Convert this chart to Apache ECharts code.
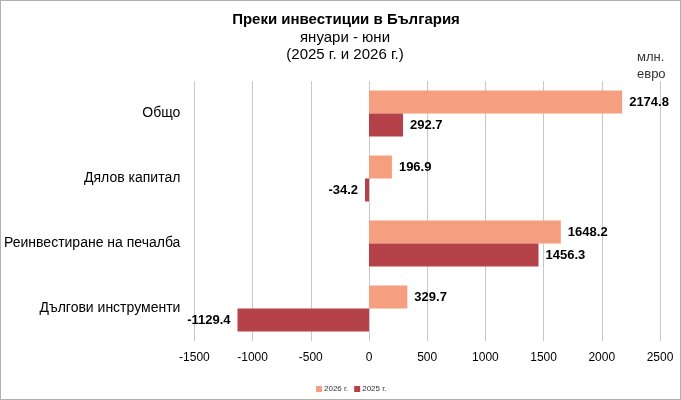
<!DOCTYPE html>
<html>
<head>
<meta charset="utf-8">
<script src="https://cdn.jsdelivr.net/npm/echarts@6/dist/echarts.min.js"></script>
<style>
html,body{margin:0;padding:0;background:#fff;}
#c{width:681px;height:400px;box-sizing:border-box;border:1px solid #b0b0b0;}
</style>
</head>
<body>
<div id="c"></div>
<script>
const categories = ['Общо', 'Дялов капитал', 'Реинвестиране на печалба', 'Дългови инструменти'];
const values2026 = [2174.8, 196.9, 1648.2, 329.7];
const values2025 = [292.7, -34.2, 1456.3, -1129.4];
const seriesNames = ['2026 г.', '2025 г.'];

const narrow = '"Liberation Sans Narrow", "Arial Narrow", "Liberation Sans", Arial, sans-serif';
const sans = '"Liberation Sans", Arial, sans-serif';

function withLabels(arr) {
  return arr.map(v => ({
    value: v,
    label: { position: v < 0 ? 'left' : 'right' }
  }));
}

const chart = echarts.init(document.getElementById('c'));
chart.setOption({
  animation: false,
  title: [
    { text: 'Преки инвестиции в България', left: 340, top: 6, textAlign: 'center',
      textStyle: { fontFamily: sans, fontSize: 15, fontWeight: 'bold', color: '#000' } },
    { text: 'януари - юни\n(2025 г. и 2026 г.)', left: 339, top: 23, textAlign: 'center',
      textStyle: { fontFamily: sans, fontSize: 15, fontWeight: 'normal', color: '#000', lineHeight: 17 } },
    { text: 'млн.\nевро', left: 631, top: 43, textAlign: 'left',
      textStyle: { fontFamily: sans, fontSize: 13, fontWeight: 'normal', color: '#333', lineHeight: 17 } }
  ],
  legend: {
    bottom: 1, left: 310,
    itemWidth: 6, itemHeight: 6, itemGap: 6,
    icon: 'rect',
    textStyle: { fontSize: 8, fontFamily: sans, color: '#333', padding: [0, 0, 0, -3] },
    data: seriesNames
  },
  grid: { left: 191, right: 20, top: 80, bottom: 58 },
  xAxis: {
    type: 'value', min: -1500, max: 2500, interval: 500,
    axisLine: { show: false }, axisTick: { show: false },
    splitLine: { lineStyle: { color: '#c8c8c8', width: 1 } },
    axisLabel: { fontFamily: sans, fontSize: 12, color: '#000', margin: 11,
      formatter: v => String(v) }
  },
  yAxis: {
    type: 'category', data: categories, inverse: true,
    axisLine: { show: false }, axisTick: { show: false },
    axisLabel: { fontFamily: narrow, fontSize: 14, color: '#000', margin: 14 }
  },
  series: [
    {
      name: seriesNames[0], type: 'bar', data: withLabels(values2026),
      barWidth: 23, barGap: '0%',
      itemStyle: { color: '#F59E80' },
      label: { show: true, fontFamily: narrow, fontWeight: 'bold', fontSize: 13, color: '#000', distance: 7 }
    },
    {
      name: seriesNames[1], type: 'bar', data: withLabels(values2025),
      barWidth: 23, barGap: '0%',
      itemStyle: { color: '#B54248' },
      label: { show: true, fontFamily: narrow, fontWeight: 'bold', fontSize: 13, color: '#000', distance: 7 }
    }
  ]
});
</script>
</body>
</html>
